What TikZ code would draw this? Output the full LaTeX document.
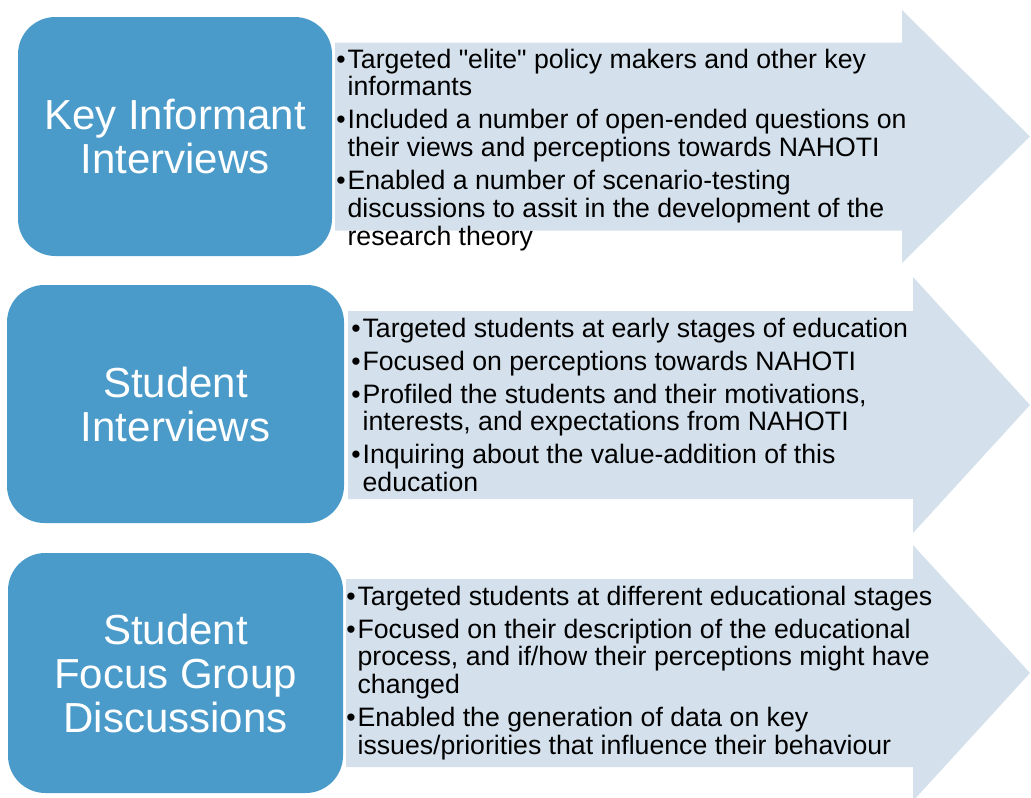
\documentclass[tikz,border=0pt]{standalone}
\usepackage{fontspec}
\setmainfont{Liberation Sans}
\newfontfamily\listfamily{Liberation Sans}
\usetikzlibrary{positioning}
\usetikzlibrary{math}

\definecolor{stageblue}{RGB}{74,155,201}
\definecolor{pointgrey}{RGB}{212,225,236}

\newcommand{\stagefont}{\fontsize{31.5}{33}\selectfont}
\newcommand{\pointfont}{\listfamily\fontsize{20}{20.8}\selectfont}
\newcommand{\bul}{\textbullet}

\begin{document}
\begin{tikzpicture}[
  x=0.75pt, y=-0.75pt,
  stagebox/.style={fill=stageblue, rounded corners=28pt, text=white,
    font=\stagefont, align=center, inner sep=0pt},
  pointlist/.style={anchor=base west, inner sep=0pt, font=\pointfont},
  ]

  \tikzmath{
    \tipx  = 1030; % x of the arrow tips
    \shaft = 94;   % half height of the arrow shafts
  }

  \useasboundingbox (0,0) rectangle (1031,797);
  \clip (0,0) rectangle (1031,797);

  % Arrows behind the lists
  \fill[pointgrey] (335,136.5-\shaft) -- (902,136.5-\shaft) -- (902,10)
    -- (\tipx,136.5) -- (902,263) -- (902,136.5+\shaft) -- (335,136.5+\shaft) -- cycle;
  \fill[pointgrey] (348,405-\shaft) -- (913,405-\shaft) -- (913,277)
    -- (\tipx,405) -- (913,533) -- (913,405+\shaft) -- (348,405+\shaft) -- cycle;
  \fill[pointgrey] (346,673-\shaft) -- (913,673-\shaft) -- (913,545)
    -- (\tipx,673) -- (913,801) -- (913,673+\shaft) -- (346,673+\shaft) -- cycle;

  % Stages
  \node[stagebox, minimum width=235.5pt, minimum height=179.25pt] (keyinf)
    at (175,136.5) {Key Informant\\Interviews};
  \node[stagebox, minimum width=252.75pt, minimum height=178.5pt] (studint)
    at (175.5,404) {Student\\Interviews};
  \node[stagebox, minimum width=251.25pt, minimum height=180pt] (focusgrp)
    at (175.5,673) {Student\\Focus Group\\Discussions};

  % Lists
  \node[pointlist] (keyinflist) at (336,68) {%
    \begin{tabular}[t]{@{}l@{\hspace{1.5pt}}l@{}}
      \bul & Targeted "elite" policy makers and other key\\
           & informants\\[4pt]
      \bul & Included a number of open-ended questions on\\
           & their views and perceptions towards NAHOTI\\[4pt]
      \bul & Enabled a number of scenario-testing\\
           & discussions to assit in the development of the\\
           & research theory
    \end{tabular}};
  \node[pointlist] (studintlist) at (351,337) {%
    \begin{tabular}[t]{@{}l@{\hspace{1.5pt}}l@{}}
      \bul & Targeted students at early stages of education\\[4pt]
      \bul & Focused on perceptions towards NAHOTI\\[4pt]
      \bul & Profiled the students and their motivations,\\
           & interests, and expectations from NAHOTI\\[4pt]
      \bul & Inquiring about the value-addition of this\\
           & education
    \end{tabular}};
  \node[pointlist] (focusgrplist) at (346,605) {%
    \begin{tabular}[t]{@{}l@{\hspace{1.5pt}}l@{}}
      \bul & Targeted students at different educational stages\\[4pt]
      \bul & Focused on their description of the educational\\
           & process, and if/how their perceptions might have\\
           & changed\\[4pt]
      \bul & Enabled the generation of data on key\\
           & issues/priorities that influence their behaviour
    \end{tabular}};

\end{tikzpicture}
\end{document}
